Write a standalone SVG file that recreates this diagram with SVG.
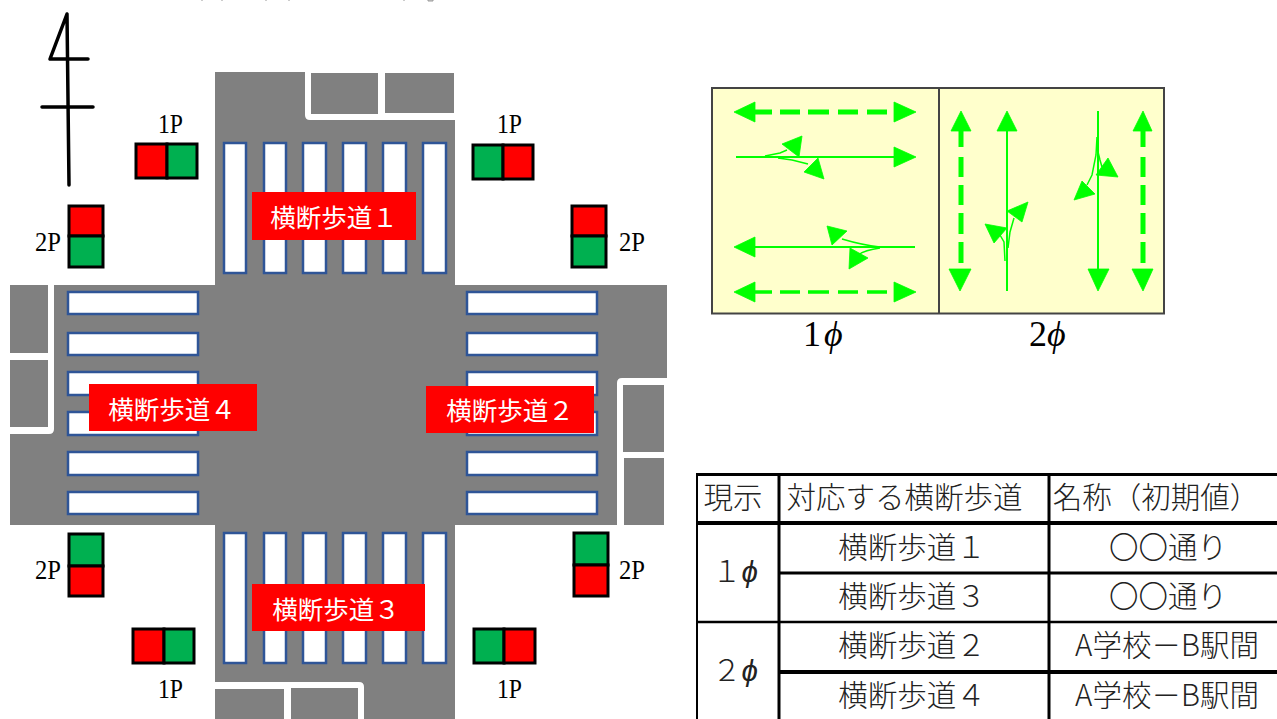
<svg xmlns="http://www.w3.org/2000/svg" width="1277" height="719" viewBox="0 0 1277 719">
<style>
.road{fill:#808080}
.w{fill:#fff}
.cw{fill:#fff;stroke:#2f5597;stroke-width:2.5}
.lab{fill:#f00}
.labt{fill:#fff;font-family:"Noto Sans CJK JP",sans-serif;font-size:25.500px;text-anchor:middle}
.sig{stroke:#000;stroke-width:3}
.r{fill:#f00}
.g{fill:#00b050}
.p{font-family:"Liberation Serif",serif;font-size:28px;fill:#000}
.n{fill:none;stroke:#000;stroke-width:3.500;stroke-linecap:round;stroke-linejoin:round}
.a{fill:#00ff00;stroke:#00ff00;stroke-width:.8}
.l{fill:none;stroke:#00ff00;stroke-width:2}
.f{fill:none;stroke:#00ff00;stroke-width:1.500}
.d{fill:none;stroke:#00ff00;stroke-width:5}
.d3{fill:none;stroke:#00ff00;stroke-width:3.500}
.phi{font-family:"Liberation Serif",serif;font-size:36px;fill:#000}
.t{font-family:"Noto Sans CJK JP",sans-serif;font-size:29.500px;font-weight:300;fill:#222;text-anchor:middle}
.tl{stroke:#000;fill:none}
</style>
<g id="clipped-marks"><path d="M202 0v1M222 0v1M266 0v1M289 0v1M404 0v1M428 0h5v1h-5z" stroke="#999" fill="none"/></g>
<g id="north-arrow">
<path class="n" d="M67 14L69 185M67 14L50 59H88M42 107H93"/>
</g>
<g id="road">
<rect class="road" x="215" y="72" width="240" height="647"/>
<rect class="road" x="10" y="285" width="657" height="240"/>
<path class="w" d="M305 72H455V120H310Q305 120 305 115Z"/>
<rect class="road" x="311" y="73" width="67" height="41"/>
<rect class="road" x="385" y="73" width="69" height="40"/>
<path class="w" d="M215 682H359Q364 682 364 687V719H215Z"/>
<rect class="road" x="215" y="689" width="69" height="30"/>
<rect class="road" x="291" y="688" width="67" height="31"/>
<path class="w" d="M10 285H54V429Q54 434 49 434H10Z"/>
<rect class="road" x="10" y="285" width="38" height="68"/>
<rect class="road" x="10" y="360" width="38" height="67"/>
<path class="w" d="M622 378H667V525H617V383Q617 378 622 378Z"/>
<rect class="road" x="623" y="385" width="41" height="67"/>
<rect class="road" x="624" y="458" width="40" height="67"/>
</g>
<g id="crosswalk-1-stripes">
<rect class="cw" x="224" y="143" width="22" height="130"/>
<rect class="cw" x="264" y="143" width="22" height="130"/>
<rect class="cw" x="303" y="143" width="23" height="130"/>
<rect class="cw" x="343" y="143" width="23" height="130"/>
<rect class="cw" x="383" y="143" width="23" height="130"/>
<rect class="cw" x="423" y="143" width="23" height="130"/>
</g>
<g id="crosswalk-3-stripes">
<rect class="cw" x="224" y="533" width="22" height="130"/>
<rect class="cw" x="264" y="533" width="22" height="130"/>
<rect class="cw" x="303" y="533" width="23" height="130"/>
<rect class="cw" x="343" y="533" width="23" height="130"/>
<rect class="cw" x="383" y="533" width="23" height="130"/>
<rect class="cw" x="423" y="533" width="23" height="130"/>
</g>
<g id="crosswalk-4-stripes">
<rect class="cw" x="68" y="292" width="130" height="22"/>
<rect class="cw" x="68" y="333" width="130" height="22"/>
<rect class="cw" x="68" y="372" width="130" height="23"/>
<rect class="cw" x="68" y="412" width="130" height="23"/>
<rect class="cw" x="68" y="452" width="130" height="23"/>
<rect class="cw" x="68" y="492" width="130" height="22"/>
</g>
<g id="crosswalk-2-stripes">
<rect class="cw" x="467" y="292" width="130" height="22"/>
<rect class="cw" x="467" y="333" width="130" height="22"/>
<rect class="cw" x="467" y="372" width="130" height="23"/>
<rect class="cw" x="467" y="412" width="130" height="23"/>
<rect class="cw" x="467" y="452" width="130" height="23"/>
<rect class="cw" x="467" y="492" width="130" height="22"/>
</g>
<g id="label-1"><rect class="lab" x="252" y="192" width="164" height="48"/><text class="labt" x="334" y="227">横断歩道１</text></g>
<g id="label-2"><rect class="lab" x="426" y="386" width="168" height="47"/><text class="labt" x="510" y="420">横断歩道２</text></g>
<g id="label-3"><rect class="lab" x="252" y="584" width="173" height="47"/><text class="labt" x="336" y="619">横断歩道３</text></g>
<g id="label-4"><rect class="lab" x="89" y="384" width="168" height="47"/><text class="labt" x="172" y="419">横断歩道４</text></g>
<g id="signal-1p-nw"><rect class="sig r" x="136" y="144" width="31" height="34"/><rect class="sig g" x="167" y="144" width="30" height="34"/><text class="p" x="158" y="133" textLength="25" lengthAdjust="spacingAndGlyphs">1P</text></g>
<g id="signal-1p-ne"><rect class="sig g" x="473" y="145" width="30" height="34"/><rect class="sig r" x="503" y="145" width="30" height="34"/><text class="p" x="497" y="133" textLength="25" lengthAdjust="spacingAndGlyphs">1P</text></g>
<g id="signal-1p-sw"><rect class="sig r" x="133" y="629" width="31" height="34"/><rect class="sig g" x="164" y="629" width="30" height="34"/><text class="p" x="158" y="698" textLength="25" lengthAdjust="spacingAndGlyphs">1P</text></g>
<g id="signal-1p-se"><rect class="sig g" x="474" y="629" width="30" height="34"/><rect class="sig r" x="504" y="629" width="31" height="34"/><text class="p" x="497" y="698" textLength="25" lengthAdjust="spacingAndGlyphs">1P</text></g>
<g id="signal-2p-nw"><rect class="sig r" x="69" y="206" width="34" height="30"/><rect class="sig g" x="69" y="236" width="34" height="31"/><text class="p" x="35" y="251" textLength="26" lengthAdjust="spacingAndGlyphs">2P</text></g>
<g id="signal-2p-ne"><rect class="sig r" x="572" y="206" width="34" height="30"/><rect class="sig g" x="572" y="236" width="34" height="31"/><text class="p" x="619" y="251" textLength="26" lengthAdjust="spacingAndGlyphs">2P</text></g>
<g id="signal-2p-sw"><rect class="sig g" x="69" y="534" width="34" height="32"/><rect class="sig r" x="69" y="566" width="34" height="30"/><text class="p" x="35" y="579" textLength="26" lengthAdjust="spacingAndGlyphs">2P</text></g>
<g id="signal-2p-se"><rect class="sig g" x="574" y="533" width="34" height="32"/><rect class="sig r" x="574" y="565" width="34" height="31"/><text class="p" x="619" y="579" textLength="26" lengthAdjust="spacingAndGlyphs">2P</text></g>
<g id="phase-panel">
<rect x="712" y="88" width="452" height="225.500" fill="#ffffcc" stroke="#444" stroke-width="2"/>
<path d="M939 88V314" stroke="#444" stroke-width="2" fill="none"/>
<text class="phi" x="803" y="346">1<tspan font-style="italic" x="824">ϕ</tspan></text>
<text class="phi" x="1029" y="346">2<tspan font-style="italic" x="1047">ϕ</tspan></text>
</g>
<g id="connectors">
<path class="d" d="M755 112H772M780 112H800M808 112H829M838 112H858M867 112H887"/>
<polygon class="a" points="734,112 755,102 755,122"/><polygon class="a" points="916,112 894,102 894,122"/>
<path class="l" d="M736 157H894"/><polygon class="a" points="916,157 894,147 894,167"/>
<polygon class="a" points="782,144 802,136 799,157"/><polygon class="a" points="804,172 818,158 824,179"/>
<path class="f" d="M765 156L780 153L787 150M778 158L792 160L808 164"/>
<path class="l" d="M755 247H915"/><polygon class="a" points="734,247 755,237 755,257"/>
<polygon class="a" points="827,226 847,231 832,245"/><polygon class="a" points="850,248 868,258 849,269"/>
<path class="f" d="M880 247Q862 245 842 239M880 248Q865 250 858 255"/>
<path class="d3" d="M755 292H772M780 292H800M808 292H829M838 292H858M867 292H887"/>
<polygon class="a" points="734,292 755,282 755,302"/><polygon class="a" points="916,292 894,282 894,302"/>
<path class="d" d="M961 131V147M961 157V177M961 185V205M961 213V234M961 242V263"/>
<polygon class="a" points="961,111 951,131 971,131"/><polygon class="a" points="960,291 949,269 971,269"/>
<path class="l" d="M1007 291V131"/><polygon class="a" points="1007,111 997,131 1017,131"/>
<polygon class="a" points="985,224 1007,228 994,243"/><polygon class="a" points="1007,211 1028,202 1022,222"/>
<path class="f" d="M1005 261L1004 242L1000 235M1008 248L1010 232L1014 218"/>
<path class="l" d="M1098 111V269"/><polygon class="a" points="1098,291 1088,269 1109,269"/>
<polygon class="a" points="1074,200 1082,181 1095,194"/><polygon class="a" points="1096,175 1108,158 1118,177"/>
<path class="f" d="M1097 137L1096 155L1092 175L1087 185M1098 152L1100 160L1102 167"/>
<path class="d" d="M1143 131V147M1143 157V177M1143 185V205M1143 213V234M1143 242V263"/>
<polygon class="a" points="1143,111 1133,131 1152,131"/><polygon class="a" points="1143,291 1132,269 1153,269"/>
</g>
<g id="phase-table">
<path class="tl" stroke-width="3" d="M697 474.500H1277M779 573H1277"/>
<path class="tl" stroke-width="4" d="M697 523H1277M779 672H1277"/>
<path class="tl" stroke-width="2.500" d="M697 622H1277"/>
<path class="tl" stroke-width="2" d="M697 473V719"/>
<path class="tl" stroke-width="3" d="M779 473V719M1049 473V719"/>
<text class="t" x="733" y="508">現示</text>
<text class="t" x="904.500" y="508">対応する横断歩道</text>
<text class="t" x="1156" y="508">名称（初期値）</text>
<text class="t" x="912" y="558">横断歩道１</text>
<text class="t" x="912" y="607">横断歩道３</text>
<text class="t" x="912" y="656">横断歩道２</text>
<text class="t" x="912" y="706">横断歩道４</text>
<text class="t" x="1168" y="558">〇〇通り</text>
<text class="t" x="1168" y="607">〇〇通り</text>
<text class="t" x="1167" y="656">A学校－B駅間</text>
<text class="t" x="1167" y="706">A学校－B駅間</text>
<text class="t" x="735" y="582">１<tspan font-style="italic">ϕ</tspan></text>
<text class="t" x="735" y="681">２<tspan font-style="italic">ϕ</tspan></text>
</g>
</svg>
